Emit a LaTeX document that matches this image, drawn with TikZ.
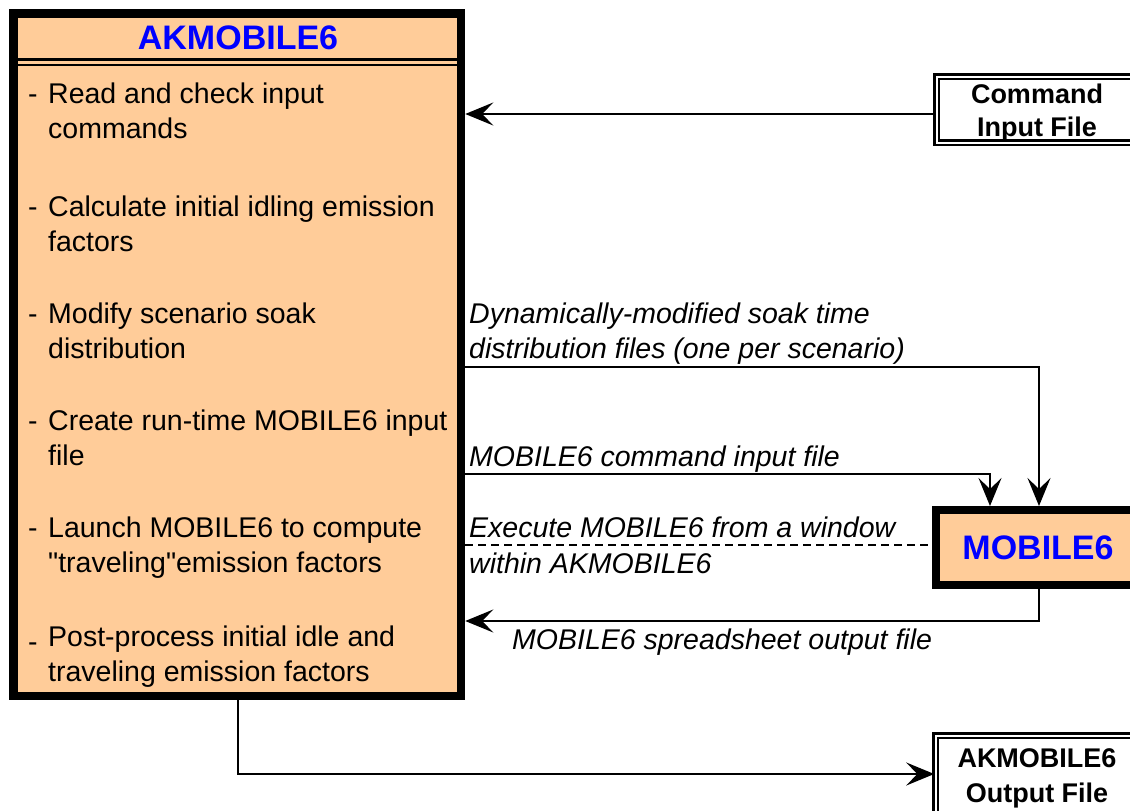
\documentclass[tikz,border=0pt]{standalone}
\usepackage{fontspec}
\setmainfont{Liberation Sans}[Ligatures=TeXOff]
\usetikzlibrary{arrows.meta}
\definecolor{akorange}{HTML}{FFCC99}
\definecolor{akblue}{HTML}{0000FF}
\newcommand\ftxtbody{\fontsize{28.5pt}{35pt}\selectfont}
\newcommand\ftxttitle{\fontsize{34pt}{40pt}\selectfont\bfseries}
\newcommand\ftxtbx{\fontsize{27pt}{35pt}\selectfont\bfseries}
\newcommand\ftxtlbl{\fontsize{28.5pt}{35pt}\selectfont\itshape}
\tikzset{
  mainbox/.style={draw=black, line width=8.5pt, fill=akorange, inner sep=0pt,
    minimum width=447.7pt, minimum height=682.5pt},
  mobbox/.style={draw=black, line width=8pt, fill=akorange, inner sep=0pt,
    minimum width=204pt, minimum height=75pt, text=akblue, font=\ftxttitle},
  filebox/.style={draw=black, double=white, line width=2.5pt, double distance=2pt,
    inner sep=0pt},
  titletxt/.style={inner sep=0pt, anchor=base, text=akblue, font=\ftxttitle},
  bxtxt/.style={inner sep=0pt, anchor=base, font=\ftxtbx},
  itemtxt/.style={inner sep=0pt, anchor=base west, font=\ftxtbody},
  lbltxt/.style={inner sep=0pt, anchor=base west, font=\ftxtlbl},
  conn/.style={draw=black, line width=1.6pt},
  arr/.style={conn, -{Stealth[length=28pt,width=23pt,inset=11pt]}},
  dashconn/.style={conn, dash pattern=on 8pt off 5pt}
}
\begin{document}
\begin{tikzpicture}[x=1pt,y=-1pt]
\useasboundingbox (0,0) rectangle (1130,811);
\clip (0,0) rectangle (1130,811);
\fill[white] (0,0) rectangle (1130,811);

% main box
\node[mainbox] (main) at (237.15,354.75) {};
\draw[line width=3pt] (14,59.8) -- (460,59.8);
\draw[line width=2pt] (14,65) -- (460,65);
\node[titletxt] (title) at (238,49) {AKMOBILE6};

% items
\node[itemtxt] (d1) at (28,103) {-};
\node[itemtxt] (i1a) at (48,103) {Read and check input};
\node[itemtxt] (i1b) at (48,138) {commands};
\node[itemtxt] (d2) at (28,216) {-};
\node[itemtxt] (i2a) at (48,216) {Calculate initial idling emission};
\node[itemtxt] (i2b) at (48,251) {factors};
\node[itemtxt] (d3) at (28,323) {-};
\node[itemtxt] (i3a) at (48,323) {Modify scenario soak};
\node[itemtxt] (i3b) at (48,358) {distribution};
\node[itemtxt] (d4) at (28,430) {-};
\node[itemtxt] (i4a) at (48,430) {Create run-time MOBILE6 input};
\node[itemtxt] (i4b) at (48,465) {file};
\node[itemtxt] (d5) at (28,537) {-};
\node[itemtxt] (i5a) at (48,537) {Launch MOBILE6 to compute};
\node[itemtxt] (i5b) at (48,572) {"traveling"emission factors};
\node[itemtxt] (d6) at (28,651) {-};
\node[itemtxt] (i6a) at (48,646) {Post-process initial idle and};
\node[itemtxt] (i6b) at (48,681) {traveling emission factors};

% command input file
\node[filebox, minimum width=200.5pt, minimum height=66pt] (cmd) at (1036.75,109.5) {};
\node[bxtxt] (cmdt1) at (1037,103.5) {Command};
\node[bxtxt] (cmdt2) at (1037,136.5) {Input File};

% MOBILE6
\node[mobbox] (mob) at (1038,547.5) {MOBILE6};

% output file
\node[filebox, minimum width=201pt, minimum height=91pt] (out) at (1036,781) {};
\node[bxtxt] (outt1) at (1037,767) {AKMOBILE6};
\node[bxtxt] (outt2) at (1037,802) {Output File};

% helper coordinates
\coordinate (ycmd) at (0,114);
\coordinate (ysoak) at (0,367);
\coordinate (ycin) at (0,474);
\coordinate (yexe) at (0,545);
\coordinate (yss) at (0,621);
\coordinate (yout) at (0,774);
\coordinate (xsoak) at (1039,0);
\coordinate (xcin) at (990,0);
\coordinate (xmain) at (238,0);

% connectors
\draw[arr] (cmd.west |- ycmd) -- (main.east |- ycmd);
\draw[arr] (main.east |- ysoak) -| (mob.north -| xsoak);
\draw[arr] (main.east |- ycin) -| (mob.north -| xcin);
\draw[dashconn] (main.east |- yexe) -- (mob.west |- yexe);
\draw[arr] (mob.south -| xsoak) |- (main.east |- yss);
\draw[arr] (main.south -| xmain) |- (out.west |- yout);

% connector labels
\node[lbltxt] (l1a) at (469,323) {Dynamically-modified soak time};
\node[lbltxt] (l1b) at (469,358) {distribution files (one per scenario)};
\node[lbltxt] (l2) at (469,466) {MOBILE6 command input file};
\node[lbltxt] (l3a) at (469,537) {Execute MOBILE6 from a window};
\node[lbltxt] (l3b) at (469,573) {within AKMOBILE6};
\node[lbltxt] (l4) at (512,649) {MOBILE6 spreadsheet output file};
\end{tikzpicture}
\end{document}
